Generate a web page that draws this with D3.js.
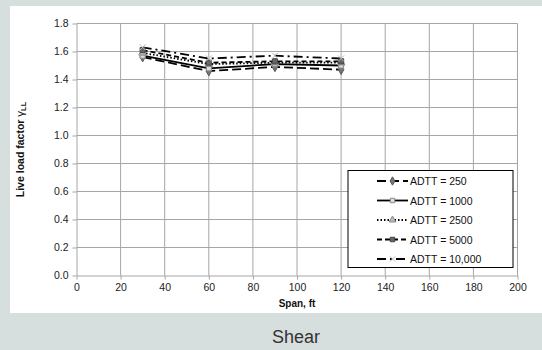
<!DOCTYPE html>
<html>
<head>
<meta charset="utf-8">
<script src="https://cdn.jsdelivr.net/npm/d3@7"></script>
<style>
  body { margin: 0; background: #d6dfde; }
  svg { display: block; font-family: "Liberation Sans", Arial, sans-serif; }
</style>
</head>
<body>
<div id="chart"></div>
<script>
// data
const spans = [30, 60, 90, 120];
const seriesNames = ["ADTT = 250", "ADTT = 1000", "ADTT = 2500", "ADTT = 5000", "ADTT = 10,000"];
const adtt250 = [1.56, 1.46, 1.49, 1.47];
const adtt1000 = [1.57, 1.48, 1.51, 1.50];
const adtt2500 = [1.59, 1.51, 1.52, 1.52];
const adtt5000 = [1.61, 1.52, 1.53, 1.53];
const adtt10000 = [1.63, 1.55, 1.57, 1.55];
const xTicks = [0, 20, 40, 60, 80, 100, 120, 140, 160, 180, 200];
const yTicks = [0, 0.2, 0.4, 0.6, 0.8, 1.0, 1.2, 1.4, 1.6, 1.8];

const allSeries = [adtt250, adtt1000, adtt2500, adtt5000, adtt10000];
// line style per series
const dashes = ["9,4", null, "1.5,2", "5,3", "9,4,2,4"];
const markers = [d3.symbolDiamond, d3.symbolSquare, d3.symbolTriangle, d3.symbolSquare, d3.symbolX];
const markerFill = ["#777", "#ddd", "#bbb", "#666", "#ccc"];
const markerStroke = ["#555", "#888", "#888", "#444", "#bbb"];

const W = 542, H = 350;
const svg = d3.select("#chart").append("svg").attr("width", W).attr("height", H);

// white panel
svg.append("rect").attr("x", 10).attr("y", 6).attr("width", W - 10).attr("height", 307).attr("fill", "#fff");

const x = d3.scaleLinear().domain([0, 200]).range([76.5, 517.5]);
const y = d3.scaleLinear().domain([0, 1.8]).range([275.5, 23.5]);

// gridlines
const grid = svg.append("g").attr("stroke", "#a6a6a6").attr("stroke-width", 1);
grid.selectAll(".v").data(xTicks.slice(1)).join("line")
  .attr("x1", d => x(d)).attr("x2", d => x(d)).attr("y1", y(0)).attr("y2", y(1.8));
grid.selectAll(".h").data(yTicks.slice(1)).join("line")
  .attr("y1", d => y(d)).attr("y2", d => y(d)).attr("x1", x(0)).attr("x2", x(200));

// axes
const xAxis = svg.append("g").attr("transform", `translate(0,${y(0)})`)
  .call(d3.axisBottom(x).tickValues(xTicks).tickSize(4).tickSizeOuter(0).tickPadding(4));
const yAxis = svg.append("g").attr("transform", `translate(${x(0)},0)`)
  .call(d3.axisLeft(y).tickValues(yTicks).tickFormat(d3.format(".1f")).tickSize(4).tickSizeOuter(0).tickPadding(4));
[xAxis, yAxis].forEach(a => {
  a.select(".domain").attr("stroke", "#a6a6a6");
  a.selectAll(".tick line").attr("stroke", "#a6a6a6");
  a.selectAll(".tick text").attr("fill", "#222").attr("font-size", 10.5)
    .attr("font-family", "Liberation Sans, Arial, sans-serif");
});

// axis titles
svg.append("text").attr("x", (x(0) + x(200)) / 2).attr("y", 307)
  .attr("text-anchor", "middle").attr("font-size", 10).attr("font-weight", "bold").attr("fill", "#111")
  .text("Span, ft");
const yt = svg.append("text").attr("transform", `translate(24,${(y(0) + y(1.8)) / 2}) rotate(-90)`)
  .attr("text-anchor", "middle").attr("font-size", 10.5).attr("font-weight", "bold").attr("fill", "#111");
yt.append("tspan").text("Live load factor ");
yt.append("tspan").attr("font-weight", "normal").attr("font-size", 11.5).text("γ");
yt.append("tspan").attr("font-size", 7.5).attr("dy", 2).text("LL");

// series
const line = d3.line().x((d, i) => x(spans[i])).y(d => y(d));
allSeries.forEach((vals, s) => {
  svg.append("path").datum(vals).attr("d", line)
    .attr("fill", "none").attr("stroke", "#000").attr("stroke-width", 1.8)
    .attr("stroke-dasharray", dashes[s]);
});
allSeries.forEach((vals, s) => {
  svg.append("g").selectAll("path").data(vals).join("path")
    .attr("transform", (d, i) => `translate(${x(spans[i])},${y(d)})`)
    .attr("d", d3.symbol().type(markers[s]).size(26))
    .attr("fill", markerFill[s]).attr("stroke", markerStroke[s]).attr("stroke-width", 1);
});

// legend
const lg = svg.append("g");
lg.append("rect").attr("x", 348).attr("y", 170.5).attr("width", 165).attr("height", 97)
  .attr("fill", "#fff").attr("stroke", "#000").attr("stroke-width", 1);
seriesNames.forEach((name, s) => {
  const ly = 181 + s * 19.5;
  lg.append("line").attr("x1", 377).attr("x2", 408).attr("y1", ly).attr("y2", ly)
    .attr("stroke", "#000").attr("stroke-width", 1.8).attr("stroke-dasharray", dashes[s]);
  lg.append("path").attr("transform", `translate(392.5,${ly})`)
    .attr("d", d3.symbol().type(markers[s]).size(20))
    .attr("fill", markerFill[s]).attr("stroke", markerStroke[s]);
  lg.append("text").attr("x", 410).attr("y", ly + 4).attr("font-size", 10.5).attr("fill", "#111").text(name);
});

// caption
svg.append("text").attr("x", 296).attr("y", 343).attr("text-anchor", "middle")
  .attr("font-size", 18).attr("fill", "#333").text("Shear");
</script>
</body>
</html>
